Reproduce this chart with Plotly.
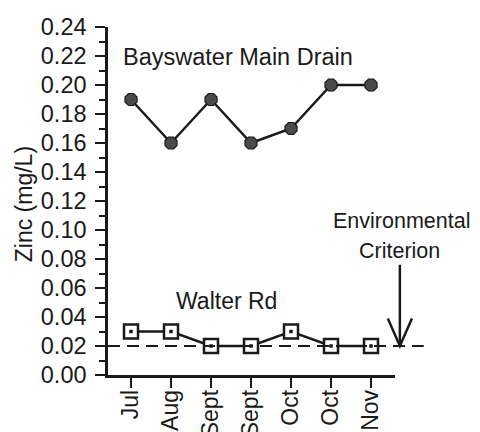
import plotly.graph_objects as go

months = ["Jul", "Aug", "Sept", "Sept", "Oct", "Oct", "Nov"]
x_pos = list(range(len(months)))
bayswater = [0.19, 0.16, 0.19, 0.16, 0.17, 0.20, 0.20]
walter_rd = [0.03, 0.03, 0.02, 0.02, 0.03, 0.02, 0.02]
criterion = 0.02
y_ticks = [round(0.02 * i, 2) for i in range(13)]

FONT = "Liberation Sans, Arial, Helvetica, sans-serif"
INK = "#1a1a1a"

fig = go.Figure()
fig.add_trace(go.Scatter(
    x=x_pos, y=bayswater, mode="lines+markers",
    line=dict(color=INK, width=2.5),
    marker=dict(symbol="octagon", size=13, color="#4a4a4a",
                line=dict(color=INK, width=1.2)),
    cliponaxis=False, showlegend=False))
fig.add_trace(go.Scatter(
    x=x_pos, y=walter_rd, mode="lines+markers",
    line=dict(color=INK, width=2.5),
    marker=dict(symbol="square", size=14, color="white",
                line=dict(color=INK, width=2.5)),
    cliponaxis=False, showlegend=False))
# centre dot of the Walter Rd markers
fig.add_trace(go.Scatter(
    x=x_pos, y=walter_rd, mode="markers",
    marker=dict(symbol="square", size=3.5, color=INK),
    cliponaxis=False, showlegend=False, hoverinfo="skip"))

# criterion dashed line, extending past the axis
fig.add_shape(type="line", xref="paper", yref="y",
              x0=0, x1=1.1, y0=criterion, y1=criterion,
              line=dict(color=INK, width=2, dash="12px,7px"))
# arrow pointing to criterion
ax = 1.017
fig.add_shape(type="line", xref="paper", yref="y",
              x0=ax, x1=ax, y0=criterion, y1=criterion + 0.056,
              line=dict(color=INK, width=2.5))
fig.add_shape(type="path", xref="paper", yref="y",
              path=f"M {ax-0.042},{criterion+0.019} L {ax},{criterion} L {ax+0.042},{criterion+0.019}",
              line=dict(color=INK, width=2.5))

annots = [
    dict(text="Bayswater Main Drain", x=0.045, y=0.219, xanchor="left", size=23.5),
    dict(text="Walter Rd", x=0.23, y=0.051, xanchor="left", size=23),
    dict(text="Environmental", x=1.024, y=0.106, xanchor="center", size=21.5),
    dict(text="Criterion", x=1.015, y=0.0856, xanchor="center", size=21.5),
]
for a in annots:
    size = a.pop("size")
    fig.add_annotation(xref="paper", yref="y", showarrow=False, yanchor="middle",
                       font=dict(family=FONT, size=size, color=INK), **a)
fig.add_annotation(text="Zinc (mg/L)", xref="paper", yref="paper", x=-0.29, y=0.49,
                   textangle=-90, showarrow=False, xanchor="center", yanchor="middle",
                   font=dict(family=FONT, size=23, color=INK))

fig.update_xaxes(range=[-0.575, 6.6], tickvals=x_pos, ticktext=months,
                 tickangle=-90, ticks="outside", ticklen=10, tickwidth=2,
                 tickcolor=INK, showline=True, linecolor=INK, linewidth=2.5,
                 showgrid=False, zeroline=False, ticklabelstandoff=-7,
                 tickfont=dict(family=FONT, size=23, color=INK))
fig.update_yaxes(range=[0, 0.24], tickvals=y_ticks,
                 ticktext=[f"{v:.2f}" for v in y_ticks],
                 ticks="outside", ticklen=10, tickwidth=2, tickcolor=INK,
                 minor=dict(ticks="outside", ticklen=6, tickwidth=2,
                            tickcolor=INK, dtick=0.01, showgrid=False),
                 showline=True, linecolor=INK, linewidth=2.5,
                 showgrid=False, zeroline=False, ticklabelstandoff=4,
                 tickfont=dict(family=FONT, size=23.5, color=INK))
fig.update_layout(width=480, height=432,
                  margin=dict(l=100, r=93, t=19, b=65, autoexpand=False),
                  paper_bgcolor="white", plot_bgcolor="white",
                  font=dict(family=FONT, color=INK))
fig.write_html("out.html")
